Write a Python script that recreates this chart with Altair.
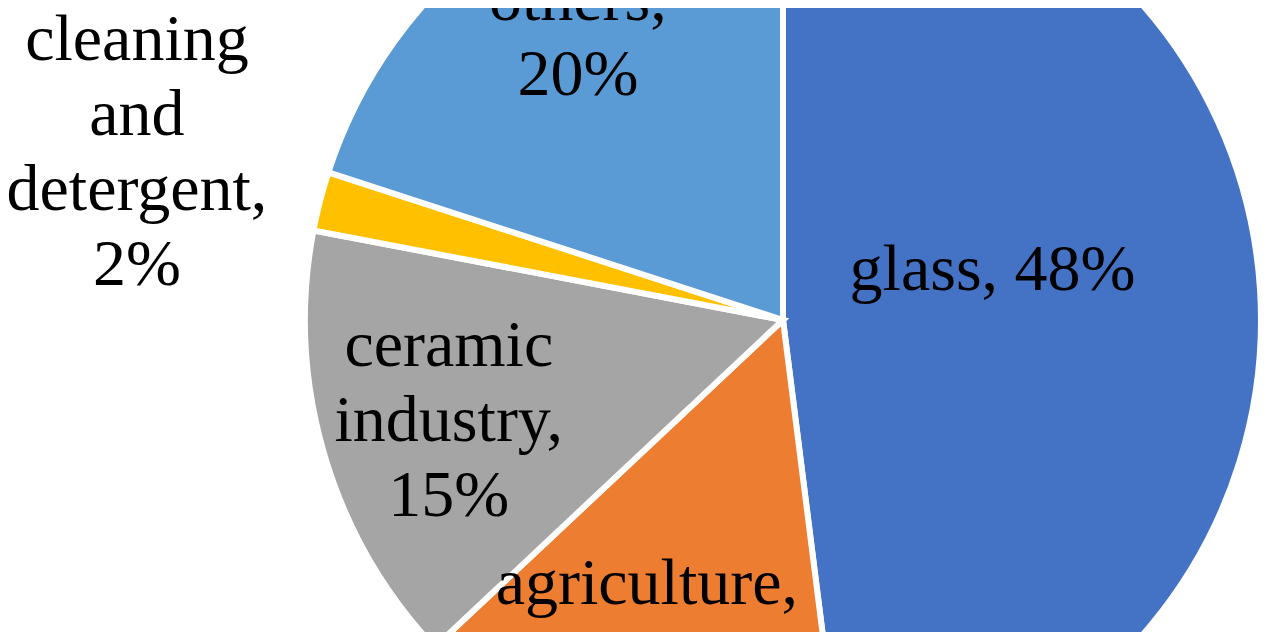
import altair as alt
import pandas as pd

categories = ["glass", "agriculture", "ceramic industry", "cleaning and detergent", "others"]
shares = [48, 15, 15, 2, 20]
label_texts = ["glass, 48%", "agriculture,\n15%", "ceramic\nindustry,\n15%",
               "cleaning\nand\ndetergent,\n2%", "others,\n20%"]
colors = ["#4472C4", "#ED7D31", "#A5A5A5", "#FFC000", "#5B9BD5"]

df = pd.DataFrame({
    "category": categories,
    "share": shares,
    "label": label_texts,
    "idx": list(range(len(categories))),
})

CX, CY, R = 775, 312, 478
LH = 75

# label placement (radius, dx, dy of block centre) per category
label_pos = {
    "glass": (210, 0, -37),
    "agriculture": (331, -24, -10),
    "ceramic industry": (348, 0, 4),
    "cleaning and detergent": (667, 0, -2),
    "others": (349, 0, 0),
}

theta = alt.Theta("share:Q", stack=True)
order = alt.Order("idx:Q")

pie = alt.Chart(df).mark_arc(
    outerRadius=R, stroke="white", strokeWidth=6
).encode(
    theta=theta,
    order=order,
    color=alt.Color("category:N", scale=alt.Scale(domain=categories, range=colors), legend=None),
    x=alt.value(CX),
    y=alt.value(CY),
)

layers = [pie]
for cat, txt in zip(categories, label_texts):
    r, dx, dy = label_pos[cat]
    n = txt.count("\n") + 1
    t = alt.Chart(df).mark_text(
        radius=r, dx=dx, dy=dy - (n - 1) * LH / 2, font="Liberation Serif", fontSize=66,
        lineHeight=LH, lineBreak="\n", color="black", align="center", baseline="middle"
    ).encode(
        theta=theta,
        order=order,
        text="label:N",
        x=alt.value(CX),
        y=alt.value(CY),
        opacity=alt.condition(alt.datum.category == cat, alt.value(1), alt.value(0)),
    )
    layers.append(t)

chart = alt.layer(*layers).properties(
    width=1264, height=624, autosize="none", padding=0
).configure_view(stroke=None)

chart.save("out.html", embed_options={"renderer": "svg", "actions": False})
